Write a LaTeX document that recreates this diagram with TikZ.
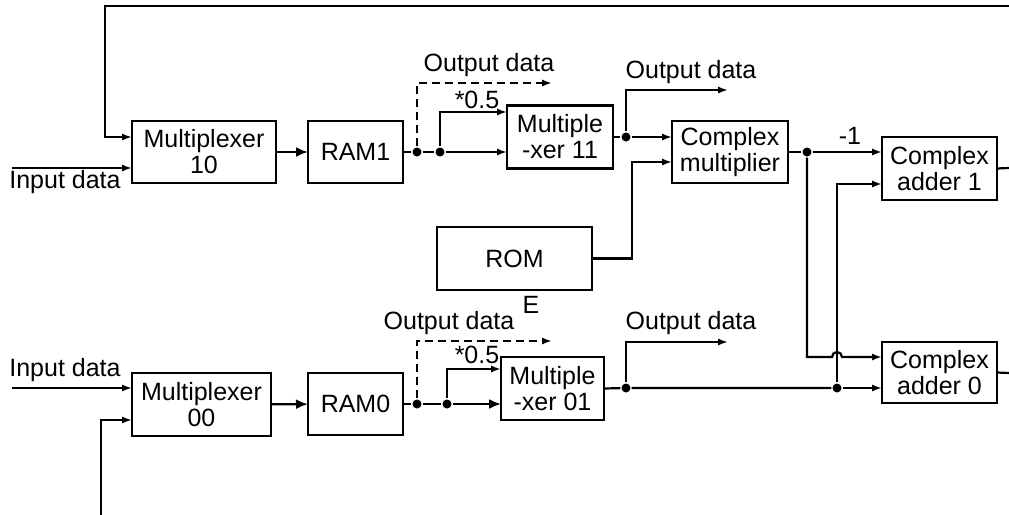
\documentclass[tikz,border=0pt]{standalone}
\usepackage{fontspec}
\setmainfont{Liberation Sans}
\usepackage{tikz}
\usetikzlibrary{arrows.meta}
\usetikzlibrary{positioning}
\tikzstyle{block}=[draw, rectangle, align=center, inner sep=0pt, outer sep=0pt]
\tikzstyle{sigarrow}=[-{Latex[length=5pt,width=3.6pt]}]
\tikzstyle{bigarrow}=[-{Latex[length=6pt,width=5pt]}]
\tikzstyle{dashline}=[dash pattern=on 4pt off 2.5pt]
\tikzstyle{dot}=[circle, fill, inner sep=0pt, minimum size=4.5pt]
\tikzstyle{lbl}=[inner sep=0pt]
\tikzset{every picture/.style={
    line width=1.1,
    font=\fontsize{12.5pt}{13pt}\selectfont
  }
}

\begin{document}
\begin{tikzpicture}[x=0.5pt,y=-0.5pt]
        \useasboundingbox (0,0) rectangle (1009,515);
        % upper path
        \node[block, minimum width=72pt, minimum height=31pt] at (204,152) (mux10) {Multiplexer\\10};
        \node[block, minimum width=47.5pt, minimum height=31pt] at (355.5,152) (ram1) {RAM1};
        \node[block, minimum width=53pt, minimum height=31.5pt] at (560,137) (mux11) {Multiple\\-xer 11};
        \node[block, minimum width=58pt, minimum height=31pt] at (730,152) (cmul) {Complex\\multiplier};
        \node[block, minimum width=77.5pt, minimum height=31.5pt] at (514.5,258.5) (rom) {ROM};
        \node[block, minimum width=57.5pt, minimum height=31.5pt] at (939.5,168.5) (add1) {Complex\\adder 1};
        % lower path
        \node[block, minimum width=69.5pt, minimum height=31.5pt] at (201.5,404.5) (mux00) {Multiplexer\\00};
        \node[block, minimum width=47.5pt, minimum height=31pt] at (355.5,404) (ram0) {RAM0};
        \node[block, minimum width=51.5pt, minimum height=31.5pt] at (552.5,388.5) (mux01) {Multiple\\-xer 01};
        \node[block, minimum width=57.5pt, minimum height=30.5pt] at (939.5,372.5) (add0) {Complex\\adder 0};

        % branch points
        \node[dot] at (417,152) (ta) {};
        \node[dot] at (440,152) (tb) {};
        \node[dot] at (626,137) (tc) {};
        \node[dot] at (807,152) (td) {};
        \node[dot] at (417,404) (ba) {};
        \node[dot] at (447,404) (bb) {};
        \node[dot] at (626,388) (bc) {};
        \node[dot] at (837,388) (bd) {};
        \coordinate (hop) at (837,357);

        % free ends
        \coordinate (fbr) at (1009,6);
        \coordinate (fbl) at (105,6);
        \coordinate (in1) at (12,168);
        \coordinate (in0) at (12,388);
        \coordinate (fb0) at (101,515);
        \coordinate (out1a) at (552,83);
        \coordinate (out1b) at (728,90);
        \coordinate (out0a) at (552,341);
        \coordinate (out0b) at (728,342);
        \coordinate (add1o) at (1009,168);
        \coordinate (add0o) at (1009,373);

        % upper connections
        \draw[sigarrow] (fbr) -- (fbl) |- ([yshift=7.5pt]mux10.west);
        \draw[sigarrow] (in1) -- ([yshift=-8pt]mux10.west);
        \draw[bigarrow] (mux10) -- (ram1);
        \draw (ram1.east) -- (ta) -- (tb);
        \draw[sigarrow] (tb) -- (tb -| mux11.west);
        \draw[sigarrow] (tb) |- ([yshift=12.5pt]mux11.west);
        \draw[sigarrow, dashline] (ta) |- (out1a);
        \draw (mux11.east) -- (tc);
        \draw[sigarrow] (tc) |- (out1b);
        \draw[sigarrow] (tc) -- (tc -| cmul.west);
        \draw[sigarrow] (rom.east) -- ++(20pt,0) |- ([yshift=-5pt]cmul.west);
        \draw (cmul.east) -- (td);
        \draw[sigarrow] (td) -- (td -| add1.west);
        \draw[sigarrow] (td) |- ([xshift=-2.5pt]hop) arc[start angle=180, end angle=0, radius=2.5pt] -- (hop -| add0.west);
        \draw[sigarrow] (bd) |- ([yshift=-7.75pt]add1.west);
        \draw (add1.east) -- (add1o);

        % lower connections
        \draw[sigarrow] (in0) -- ([yshift=8.25pt]mux00.west);
        \draw[sigarrow] (fb0) |- ([yshift=-7.75pt]mux00.west);
        \draw[bigarrow] (mux00) -- (ram0);
        \draw (ram0.east) -- (ba) -- (bb);
        \draw[bigarrow] (bb) -- (bb -| mux01.west);
        \draw[sigarrow] (bb) |- ([yshift=9.75pt]mux01.west);
        \draw[sigarrow, dashline] (ba) |- (out0a);
        \draw (mux01.east) -- (bc) -- (bd);
        \draw[sigarrow] (bc) |- (out0b);
        \draw[sigarrow] (bd) -- (bd -| add0.west);
        \draw (add0.east) -- (add0o);

        % labels
        \node[lbl] at (65,182) (inlbl1) {Input data};
        \node[lbl] at (65,370) (inlbl0) {Input data};
        \node[lbl] at (489,65) (odlbl1) {Output data};
        \node[lbl] at (691,72) (odlbl2) {Output data};
        \node[lbl] at (449,323) (odlbl3) {Output data};
        \node[lbl] at (691,323) (odlbl4) {Output data};
        \node[lbl] at (477,100) (halflbl1) {*0.5};
        \node[lbl] at (477,355) (halflbl0) {*0.5};
        \node[lbl] at (850,136) (neglbl) {-1};
        \node[lbl] at (531,305) (elbl) {E};
      \end{tikzpicture}
\end{document}
